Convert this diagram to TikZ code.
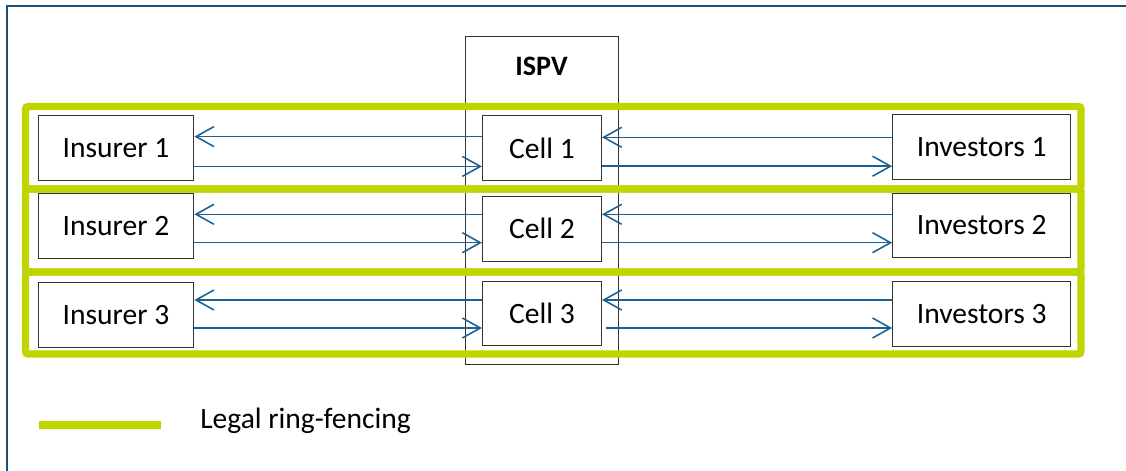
\documentclass[tikz,border=0pt]{standalone}
\usepackage{fontspec}
\setmainfont{Carlito}
\usetikzlibrary{arrows.meta}
\definecolor{fencegreen}{RGB}{192,212,0}
\definecolor{flowblue}{RGB}{24,96,150}
\definecolor{frameblue}{RGB}{31,78,121}

\begin{document}
\begin{tikzpicture}[
					x = 0.025cm, y = -0.025cm,
					every node/.style = {
						font = \fontsize{21}{25}\selectfont,
					},
					box/.style = {
						shape = rectangle,
						draw = black!80,
						line width = 0.8pt,
						fill = white,
						minimum height = 1.62cm,
						inner sep = 0pt,
					},
					insurer/.style = {box, minimum width = 3.89cm},
					cell/.style = {box, minimum width = 2.975cm},
					investor/.style = {box, minimum width = 4.45cm},
					fence/.style = {draw = fencegreen, line width = 5.3pt, rounded corners = 2pt},
					flow/.style = {draw = flowblue, line width = 1.1pt, -{Straight Barb[length = 4.5mm, width = 5mm]}},
			]
				\useasboundingbox (0, 0) rectangle (1126, 471);
				\draw[frameblue, line width = 1.4pt] (7, 471) -- (7, 6) -- (1126, 6);

				\draw (541.5, 200.4) node (ispv) [box, fill = none, line width = 0.6pt, minimum width = 3.825cm, minimum height = 8.18cm] {};
				\draw (541.5, 66) node (ispvlabel) [font = \fontsize{20}{24}\selectfont\bfseries] {ISPV};

				\draw[fence] (25.5, 106.5) rectangle (1081, 189);
				\draw[fence] (25.5, 189) rectangle (1081, 272);
				\draw[fence] (25.5, 272) rectangle (1081, 354);

				\draw (116, 148) node (ins1) [insurer] {Insurer 1};
				\draw (116, 226.3) node (ins2) [insurer] {Insurer 2};
				\draw (116, 314.7) node (ins3) [insurer] {Insurer 3};
				\draw (542, 148.3) node (cell1) [cell] {Cell 1};
				\draw (542, 228.8) node (cell2) [cell] {Cell 2};
				\draw (542, 313.5) node (cell3) [cell] {Cell 3};
				\draw (981.7, 146.8) node (inv1) [investor] {Investors 1};
				\draw (981.7, 225.5) node (inv2) [investor] {Investors 2};
				\draw (981.7, 313.8) node (inv3) [investor] {Investors 3};

				\draw[flow] (cell1.west |- 0, 136.6) -- (ins1.east |- 0, 136.6);
				\draw[flow] (ins1.east |- 0, 166.4) -- (cell1.west |- 0, 166.4);
				\draw[flow] (inv1.west |- 0, 137.3) -- (cell1.east |- 0, 137.3);
				\draw[flow] (cell1.east |- 0, 166.2) -- (inv1.west |- 0, 166.2);

				\draw[flow] (cell2.west |- 0, 214.3) -- (ins2.east |- 0, 214.3);
				\draw[flow] (ins2.east |- 0, 242.7) -- (cell2.west |- 0, 242.7);
				\draw[flow] (inv2.west |- 0, 214.3) -- (cell2.east |- 0, 214.3);
				\draw[flow] (cell2.east |- 0, 242.7) -- (inv2.west |- 0, 242.7);

				\draw[flow] (cell3.west |- 0, 300) -- (ins3.east |- 0, 300);
				\draw[flow] (ins3.east |- 0, 328) -- (cell3.west |- 0, 328);
				\draw[flow] (inv3.west |- 0, 300) -- (cell3.east |- 0, 300);
				\draw[flow] ([xshift = 3pt]cell3.east |- 0, 328) -- (inv3.west |- 0, 328);

				\draw[fence, line width = 5.9pt] (39, 425) -- (161, 425);
				\draw (200, 429) node (legend) [anchor = base west, inner sep = 0pt] {Legal ring-fencing};
			\end{tikzpicture}
\end{document}
